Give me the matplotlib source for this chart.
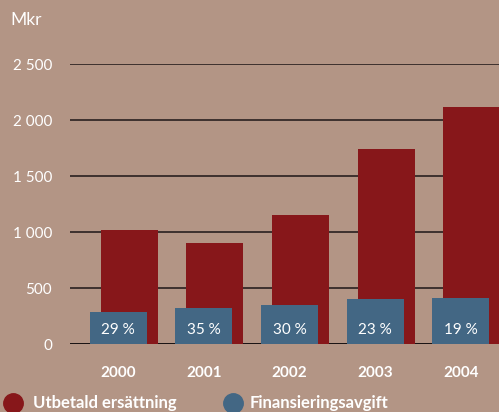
import matplotlib
matplotlib.use("Agg")
import matplotlib.pyplot as plt
from matplotlib.lines import Line2D

years = ["2000", "2001", "2002", "2003", "2004"]
utbetald = [1020, 900, 1150, 1740, 2120]
finans = [290, 320, 348, 400, 410]
pct_labels = ["29 %", "35 %", "30 %", "23 %", "19 %"]
yticks = [0, 500, 1000, 1500, 2000, 2500]
ytick_labels = ["0", "500", "1 000", "1 500", "2 000", "2 500"]

BG = "#b39585"
RED = "#87171a"
BLUE = "#436784"
plt.rcParams['font.family'] = ['Lato', 'DejaVu Sans']

fig = plt.figure(figsize=(4.99, 4.12), dpi=100)
fig.patch.set_facecolor(BG)
ax = fig.add_axes([70/499, 1-344/412, 1-70/499, (344-64)/412])
ax.set_facecolor(BG)

x = list(range(len(years)))
red_x = [i + 0.13 for i in x]
ax.bar(red_x, utbetald, width=0.665, color=RED, zorder=2)
ax.bar(x, finans, width=0.665, color=BLUE, zorder=3)
for i, p in enumerate(pct_labels):
    ax.text(x[i], 125, p, ha="center", va="center", color="white", fontsize=11, zorder=4)

ax.set_ylim(0, 2500)
ax.set_xlim(-0.56, 4.445)
ax.set_yticks(yticks)
ax.set_yticklabels(ytick_labels, color="white", fontsize=11)
ax.tick_params(axis="y", length=0, pad=13)
ax.set_xticks(x)
ax.set_xticklabels(years, color="white", fontsize=11, fontweight="bold")
ax.tick_params(axis="x", length=0, pad=16)
for t in ax.get_yticklabels():
    t.set_ha("right")
ax.yaxis.grid(True, color="#2a2020", linewidth=1.2, zorder=1)
ax.set_axisbelow(True)
for s in ax.spines.values():
    s.set_visible(False)
ax.axhline(0, color="#1a1414", linewidth=1.4, zorder=1)

fig.text(10/499, 1-20/412, "Mkr", color="white", fontsize=12.5, va="center", ha="left")

# legend
fig.add_artist(Line2D([13/499], [1-403/412], marker="o", markersize=14, color=RED,
                      linestyle="none", transform=fig.transFigure))
fig.text(33/499, 1-403/412, "Utbetald ersättning", color="white", fontsize=12,
         fontweight="bold", va="center", ha="left")
fig.add_artist(Line2D([233/499], [1-403/412], marker="o", markersize=14, color=BLUE,
                      linestyle="none", transform=fig.transFigure))
fig.text(250/499, 1-403/412, "Finansieringsavgift", color="white", fontsize=12,
         fontweight="bold", va="center", ha="left")

fig.savefig("out.png", dpi=100, facecolor=BG)
